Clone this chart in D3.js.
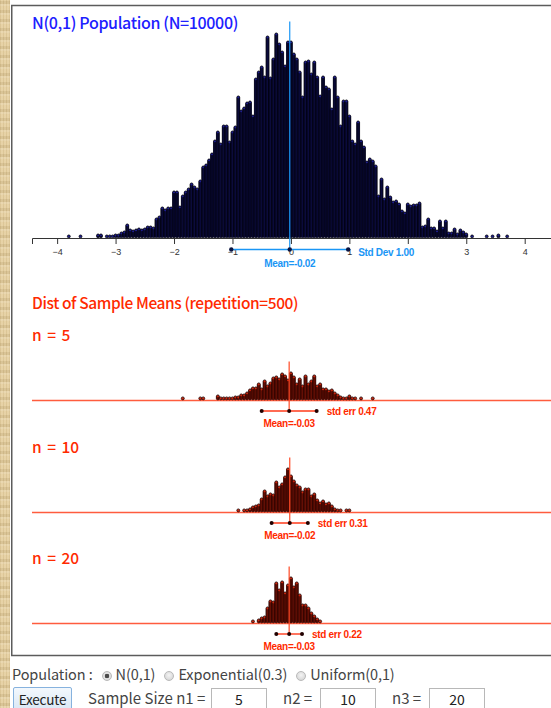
<!DOCTYPE html>
<html>
<head>
<meta charset="utf-8">
<script src="https://cdn.jsdelivr.net/npm/d3@7"></script>
<style>
  html, body { margin: 0; padding: 0; background: #fff; }
  body { width: 551px; height: 708px; overflow: hidden; position: relative;
         font-family: "Noto Sans CJK KR", "Noto Sans", sans-serif; }
  #strip { position: absolute; left: 0; top: 0; width: 10px; height: 708px;
           background-color: #e2c994;
           background-image:
             repeating-linear-gradient(0deg, rgba(255,255,255,0.18) 0 2px, rgba(0,0,0,0.05) 2px 5px, rgba(255,255,255,0.08) 5px 9px),
             repeating-linear-gradient(90deg, rgba(0,0,0,0.04) 0 1px, rgba(255,255,255,0.1) 1px 3px); }
  svg { position: absolute; left: 0; top: 0; }
  .ctl { position: absolute; font-size: 15px; color: #444; white-space: nowrap; line-height: 20px; }
  .ctl.row1 { font-size: 14.5px; letter-spacing: -0.1px; }
  .ctl input[type=radio] { -webkit-appearance: none; appearance: none; width: 10px; height: 10px;
         border-radius: 50%; border: 1px solid #b9b9b9; margin: 0 4px 0 9px; vertical-align: -1px;
         background: radial-gradient(circle at 50% 40%, #f4f4f4, #cfcfcf); }
  .ctl input[type=radio]:checked { background: radial-gradient(circle, #4a4a4a 0 2px, #e6e6e6 2.6px, #cfcfcf); }
  .btn { position: absolute; left: 13px; top: 687px; width: 59px; height: 23px; box-sizing: border-box;
         border: 1px solid #86b2de; border-radius: 2px; font: 13.5px "Noto Sans CJK KR", sans-serif; color: #222;
         background: linear-gradient(#f3f8fd, #dbe8f5); padding: 0; line-height: 20px; letter-spacing: -0.2px; }
  .box { position: absolute; top: 688px; width: 56px; height: 22px; box-sizing: border-box;
         border: 1px solid #b8b8b8; font: 14px "Noto Sans CJK KR", sans-serif; color: #222;
         text-align: center; padding: 0; line-height: 20px; background: #fff; }
</style>
</head>
<body>
<div id="strip"></div>
<script>
// ---- data ----
const binWidth = 0.05;
const xTicks = [-4, -3, -2, -1, 0, 1, 2, 3, 4];
// the "2" label sits under the Std Dev caption, so it is left blank
const hiddenTickLabels = [2];

// population histogram: dots per 0.05 bin, first bin centred at popStart
const popStart = -3.80;
const popCounts = [
  1, 0, 0, 0, 1, 0, 0, 0, 0, 0,
  2, 2, 0, 1, 1, 1, 2, 2, 4, 5,
  12, 7, 6, 7, 8, 7, 8, 10, 10, 9,
  18, 20, 29, 27, 29, 29, 45, 45, 30, 41,
  45, 48, 53, 50, 48, 56, 70, 72, 77, 83,
  96, 105, 93, 111, 111, 95, 105, 110, 140, 126,
  129, 134, 135, 121, 158, 165, 170, 160, 200, 159,
  178, 203, 193, 185, 171, 195, 195, 183, 178, 165,
  140, 175, 176, 163, 175, 160, 141, 160, 150, 148,
  128, 160, 140, 111, 136, 136, 121, 96, 93, 115,
  96, 90, 75, 78, 76, 71, 41, 58, 38, 50,
  40, 35, 36, 33, 26, 24, 33, 31, 32, 32,
  34, 10, 11, 18, 9, 9, 6, 16, 9, 16,
  4, 4, 8, 3, 7, 5, 3, 0, 1, 0,
  0, 0, 0, 1, 0, 1, 0, 2, 0, 0,
  1
];
const popN = 10000;
const popMean = -0.02;
const popSd = 1.00;

// distributions of sample means (500 repetitions each)
const sampleSizes = [5, 10, 20];
const sampleStarts = [-1.85, -0.90, -0.65];
const n5Counts = [
  1, 0, 0, 0, 0, 0, 1, 1, 0, 0,
  0, 0, 3, 1, 1, 1, 1, 1, 2, 2,
  4, 4, 6, 9, 11, 11, 15, 10, 18, 13,
  16, 21, 22, 20, 25, 23, 19, 26, 22, 15,
  20, 13, 23, 15, 18, 23, 13, 15, 10, 10,
  8, 9, 6, 4, 2, 1, 1, 3, 1, 1,
  0, 1, 0, 0, 0, 1
];
const n10Counts = [
  1, 0, 1, 1, 2, 4, 5, 6, 12, 20,
  15, 17, 16, 29, 24, 27, 34, 42, 35, 30,
  26, 24, 19, 22, 22, 15, 17, 11, 8, 10,
  7, 8, 5, 2, 1, 1, 0, 1, 1
];
const n20Counts = [
  1, 0, 2, 4, 5, 14, 21, 20, 39, 32,
  40, 29, 37, 44, 35, 39, 27, 17, 17, 14,
  9, 6, 3, 1
];
const sampleMeans = [-0.03, -0.02, -0.03];
const stdErrs = [0.47, 0.31, 0.22];
const repetitions = 500;

// ---- layout ----
const W = 551, H = 708;
const axisY = 238;
const panelBase = [400, 512, 623];
const dotStep = 1;
const labelFont = "Liberation Sans, Arial, sans-serif";

const svg = d3.select("body").append("svg").attr("width", W).attr("height", H);

// chart frame
svg.append("rect")
  .attr("x", 11.75).attr("y", 5.5).attr("width", 600).attr("height", 650)
  .attr("fill", "#fff").attr("stroke", "#5c5c5c").attr("stroke-width", 1.5);

const x = d3.scaleLinear().domain([-4.43, 4.45]).range([32, 551]);

function expand(start, counts) {
  const pts = [];
  counts.forEach((c, b) => {
    const v = +(start + b * binWidth).toFixed(2);
    for (let i = 0; i < c; i++) pts.push({ v, i });
  });
  return pts;
}

// ---- population panel ----
svg.append("text")
  .attr("x", 32).attr("y", 29)
  .attr("fill", "#2020ff").attr("font-size", 16).attr("font-weight", 500).attr("letter-spacing", -0.35)
  .text(`N(0,1) Population (N=${popN})`);

const popY = d3.scaleLinear().domain([0, 200]).range([axisY - 1.6, axisY - 1.6 - 200 * dotStep]);

svg.append("g").selectAll("circle")
  .data(expand(popStart, popCounts))
  .join("circle")
  .attr("cx", d => x(d.v)).attr("cy", d => popY(d.i)).attr("r", 1.45)
  .attr("fill", "#1d1d8e").attr("stroke", "#000").attr("stroke-width", 0.75);

const axis = svg.append("g").attr("transform", `translate(0,${axisY})`)
  .call(d3.axisBottom(x).tickValues(xTicks).tickSize(6).tickSizeOuter(6).tickPadding(5)
    .tickFormat(d => hiddenTickLabels.includes(d) ? "" : d3.format("d")(d)));
axis.select(".domain").attr("stroke", "#333");
axis.selectAll(".tick line").attr("stroke", "#333");
axis.selectAll("text").attr("fill", "#333").attr("font-size", 9).attr("font-family", labelFont);

const popColor = "#1a96f5";
const popBracketY = axisY + 11.5;
svg.append("line")
  .attr("x1", x(popMean)).attr("x2", x(popMean))
  .attr("y1", popY(d3.max(popCounts)) - 12).attr("y2", popBracketY)
  .attr("stroke", popColor).attr("stroke-width", 1.2);
svg.append("line")
  .attr("x1", x(popMean - popSd)).attr("x2", x(popMean + popSd))
  .attr("y1", popBracketY).attr("y2", popBracketY)
  .attr("stroke", popColor).attr("stroke-width", 1.6);
svg.append("g").selectAll("circle")
  .data([popMean - popSd, popMean, popMean + popSd])
  .join("circle")
  .attr("cx", d => x(d)).attr("cy", popBracketY).attr("r", 2.2).attr("fill", "#0a1440");
svg.append("text")
  .attr("x", x(popMean + popSd) + 10).attr("y", popBracketY + 6)
  .attr("fill", popColor).attr("font-size", 10).attr("font-weight", "bold").attr("letter-spacing", -0.3)
  .attr("font-family", labelFont)
  .text(`Std Dev ${popSd.toFixed(2)}`);
svg.append("text")
  .attr("x", x(popMean)).attr("y", popBracketY + 17.5).attr("text-anchor", "middle")
  .attr("fill", popColor).attr("font-size", 10).attr("font-weight", "bold").attr("letter-spacing", -0.3)
  .attr("font-family", labelFont)
  .text(`Mean=${popMean.toFixed(2)}`);

// ---- sample mean panels ----
const red = "#ff2a00";
svg.append("text")
  .attr("x", 32).attr("y", 309)
  .attr("fill", red).attr("font-size", 15.5).attr("font-weight", 500).attr("letter-spacing", -0.4)
  .text(`Dist of Sample Means (repetition=${repetitions})`);

const sampleCounts = [n5Counts, n10Counts, n20Counts];

sampleSizes.forEach((n, k) => {
  const base = panelBase[k];
  const counts = sampleCounts[k];
  const y = d3.scaleLinear().domain([0, 50]).range([base - 1.6, base - 1.6 - 50 * dotStep]);
  const g = svg.append("g");

  g.append("text")
    .attr("x", 32).attr("y", base - 59)
    .attr("fill", red).attr("font-size", 15.5).attr("font-weight", 500).attr("word-spacing", 2)
    .text(`n = ${n}`);

  g.append("line")
    .attr("x1", x.range()[0]).attr("x2", x.range()[1])
    .attr("y1", base + 0.5).attr("y2", base + 0.5)
    .attr("stroke", "#ff5c3e").attr("stroke-width", 1.3);

  g.append("g").selectAll("circle")
    .data(expand(sampleStarts[k], counts))
    .join("circle")
    .attr("cx", d => x(d.v)).attr("cy", d => y(d.i)).attr("r", 1.5)
    .attr("fill", "#c8260e").attr("stroke", "#1a0000").attr("stroke-width", 0.75);

  const m = sampleMeans[k], se = stdErrs[k];
  const by = base + 11;
  g.append("line")
    .attr("x1", x(m)).attr("x2", x(m))
    .attr("y1", y(d3.max(counts)) - 11).attr("y2", by)
    .attr("stroke", "#ff4a26").attr("stroke-width", 1.2);
  g.append("line")
    .attr("x1", x(m - se)).attr("x2", x(m + se))
    .attr("y1", by).attr("y2", by)
    .attr("stroke", "#ff3a1a").attr("stroke-width", 1.4);
  g.append("g").selectAll("circle")
    .data([m - se, m, m + se])
    .join("circle")
    .attr("cx", d => x(d)).attr("cy", by).attr("r", 2).attr("fill", "#200000");
  g.append("text")
    .attr("x", x(m + se) + 10).attr("y", by + 4)
    .attr("fill", red).attr("font-size", 10).attr("font-weight", "bold").attr("letter-spacing", -0.3)
    .attr("font-family", labelFont)
    .text(`std err ${se.toFixed(2)}`);
  g.append("text")
    .attr("x", x(m)).attr("y", by + 15.5).attr("text-anchor", "middle")
    .attr("fill", red).attr("font-size", 10).attr("font-weight", "bold").attr("letter-spacing", -0.3)
    .attr("font-family", labelFont)
    .text(`Mean=${m.toFixed(2)}`);
});

// ---- controls ----
const body = d3.select("body");
const row1 = body.append("div").attr("class", "ctl row1").style("left", "12px").style("top", "664px");
row1.append("span").text("Population :");
[["N(0,1)", true], ["Exponential(0.3)", false], ["Uniform(0,1)", false]].forEach(([label, on]) => {
  row1.append("input").attr("type", "radio").attr("name", "pop").property("checked", on);
  row1.append("span").text(label);
});

body.append("button").attr("class", "btn").text("Execute");
body.append("div").attr("class", "ctl").style("left", "88px").style("top", "688px").text("Sample Size n1 =");
body.append("div").attr("class", "ctl").style("left", "283px").style("top", "688px").text("n2 =");
body.append("div").attr("class", "ctl").style("left", "392px").style("top", "688px").text("n3 =");
[211, 320, 429].forEach((left, k) => {
  body.append("input").attr("class", "box").attr("type", "text")
    .style("left", left + "px").property("value", sampleSizes[k]);
});
</script>
</body>
</html>
